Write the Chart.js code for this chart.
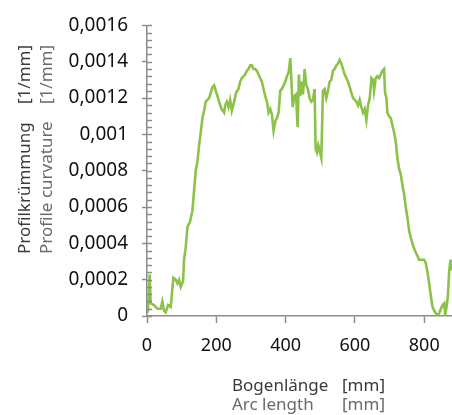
<!DOCTYPE html>
<html lang="de">
<head>
    <meta charset="UTF-8">
    <title>Profilkrümmung</title>
    <script src="https://cdn.jsdelivr.net/npm/chart.js"></script>
    <style>
        html, body { margin: 0; padding: 0; background: #fff; }
        #wrap { width: 452px; height: 415px; }
    </style>
</head>
<body>
    <div id="wrap">
        <canvas id="myChart" width="452" height="415"></canvas>
    </div>

    <script>
        // arc length [mm] and profile curvature [1/mm]
        const arcLength = [
            0, 2.9, 7.7, 10.6, 20.2, 29.9, 39.5, 44.3, 49.1, 54, 60.7, 68.4,
            76.1, 82.8, 87.7, 92.5, 97.3, 104, 106.9, 111.8, 116.6, 124.3, 131, 135.8,
            140.6, 145.5, 150.3, 155.1, 159.9, 164.7, 169.6, 174.4, 179.2, 184, 188.9, 193.7,
            198.5, 203.3, 208.1, 214.8, 218.7, 222.5, 225.4, 230.2, 235.1, 239.9, 244.7, 251.4,
            257.2, 263.9, 268.8, 273.6, 278.4, 283.2, 288.1, 292.9, 297.7, 302.5, 307.3, 312.2,
            317, 321.8, 326.6, 331.4, 336.3, 341.1, 345.9, 350.7, 355.6, 360.4, 365.2, 370,
            374.8, 379.7, 384.5, 389.3, 394.1, 398.9, 403.8, 408.6, 413.4, 416.3, 420.2, 425,
            430, 434.6, 438.3, 442.2, 446, 449.9, 454.7, 459.5, 464.3, 469.1, 474, 478.8,
            483.6, 486.5, 490.4, 494.2, 498.1, 502.9, 507.7, 512.5, 517.3, 522.2, 527, 531.8,
            536.6, 541.4, 546.3, 551.1, 555.9, 560.7, 565.5, 570.4, 575.2, 580, 584.8, 589.6,
            594.5, 599.3, 604.1, 608.9, 613.7, 618.6, 623.4, 628.2, 633, 637.8, 642.7, 647.5,
            652.3, 655.1, 659.9, 664.7, 669.5, 674.4, 679.2, 684, 686.9, 690.8, 693.6, 698.4,
            703.3, 708.1, 712.9, 717.7, 722.5, 727.4, 732.2, 737, 741.8, 746.6, 751.5, 756.3,
            761.1, 765.9, 770.7, 775.6, 780.4, 785.2, 790, 794.9, 799.7, 804.5, 809.3, 814.1,
            819, 823.8, 828.6, 833.4, 838.2, 843.1, 847.9, 852.7, 857.5, 860.4, 864.3, 868.1,
            872, 875.8, 878
        ];
        const curvature = [
            0.000015, 0.00003, 0.00023, 0.00007, 0.00006, 0.00004, 0.00004, 0.00008, 0.00003, 0.00002, 0.00006, 0.00005,
            0.00021, 0.0002, 0.00018, 0.0002, 0.00016, 0.00019, 0.00031, 0.00038, 0.00049, 0.00052, 0.00058, 0.00069,
            0.0008, 0.00085, 0.00094, 0.00101, 0.00109, 0.00113, 0.00118, 0.00119, 0.0012, 0.00123, 0.00126, 0.00127,
            0.00124, 0.00121, 0.00118, 0.00114, 0.00113, 0.00112, 0.00116, 0.00118, 0.00115, 0.00119, 0.00113, 0.00118,
            0.00123, 0.00125, 0.00129, 0.00131, 0.00132, 0.00133, 0.00135, 0.00136, 0.00138, 0.00138, 0.00136, 0.00136,
            0.00135, 0.00133, 0.00131, 0.00129, 0.00125, 0.00121, 0.00118, 0.00112, 0.00114, 0.00111, 0.00102, 0.00107,
            0.00109, 0.00112, 0.00124, 0.00125, 0.00127, 0.00129, 0.00132, 0.00134, 0.00142, 0.00131, 0.00115, 0.00121,
            0.00122, 0.00104, 0.00133, 0.00121, 0.00129, 0.00122, 0.00136, 0.00127, 0.00125, 0.0012, 0.00118, 0.00119,
            0.00125, 0.00092, 0.0009, 0.00094, 0.00091, 0.00087, 0.00124, 0.00125, 0.0012, 0.00124, 0.00129, 0.0013,
            0.00135, 0.00136, 0.00138, 0.00139, 0.00141, 0.00139, 0.00136, 0.00133, 0.00131, 0.00129, 0.00126, 0.00123,
            0.0012, 0.00119, 0.00118, 0.00116, 0.00119, 0.00115, 0.00112, 0.00114, 0.00108, 0.00116, 0.0012, 0.00131,
            0.0013, 0.00124, 0.00131, 0.00132, 0.00131, 0.00133, 0.00135, 0.00136, 0.00123, 0.0012, 0.00112, 0.0011,
            0.00109, 0.00105, 0.00101, 0.00096, 0.00087, 0.00081, 0.00078, 0.00072, 0.00067, 0.0006, 0.00054, 0.00047,
            0.00043, 0.0004, 0.00037, 0.00035, 0.00033, 0.00031, 0.00031, 0.00031, 0.00031, 0.00029, 0.00024, 0.00018,
            0.00011, 0.00005, 0.00003, 0.000015, 0.000005, 0.000015, 0.00004, 0.00006, 0.00007, 0.000005, 0.00005, 0.00011,
            0.00025, 0.00031, 0.00025
        ];
        const xTickStep = 200;
        const yTickStep = 0.0002;
        const yMinorStep = 0.00004;

        const axisGrey = '#8c8c8c';
        const fontFamily = '"Noto Sans", "Open Sans", sans-serif';

        // two-language axis titles, unit column lined up like a tab stop
        const titles = {
            id: 'titles',
            afterDraw(chart) {
                const ctx = chart.ctx;
                const yScale = chart.scales.y;
                ctx.save();

                // inward ticks on the y axis (major and minor)
                ctx.strokeStyle = axisGrey;
                ctx.lineWidth = 1.5;
                const left = chart.chartArea.left;
                for (let v = 0; v <= 0.0016 + 1e-9; v += yMinorStep) {
                    const py = Math.round(yScale.getPixelForValue(v)) + 0.5;
                    ctx.beginPath();
                    ctx.moveTo(left, py);
                    ctx.lineTo(left + 5, py);
                    ctx.stroke();
                }

                ctx.font = '17px ' + fontFamily;
                ctx.textBaseline = 'alphabetic';
                ctx.textAlign = 'left';

                // y title, rotated
                const yStart = 254;
                const yLines = [['Profilkrümmung', 30, '#3a3a3a'], ['Profile curvature', 52, '#6a6a6a']];
                yLines.forEach(([txt, bx, col]) => {
                    ctx.save();
                    ctx.translate(bx, yStart);
                    ctx.rotate(-Math.PI / 2);
                    ctx.fillStyle = col;
                    ctx.fillText(txt, 0, 0);
                    ctx.fillText('[1/mm]', 150, 0);
                    ctx.restore();
                });

                // x title
                const xStart = 232;
                const xLines = [['Bogenlänge', 391, '#3a3a3a'], ['Arc length', 410, '#6a6a6a']];
                xLines.forEach(([txt, by, col]) => {
                    ctx.fillStyle = col;
                    ctx.fillText(txt, xStart, by);
                    ctx.fillText('[mm]', xStart + 110, by);
                });
                ctx.restore();
            }
        };

        const points = arcLength.map((x, i) => ({ x: x, y: curvature[i] }));

        const ctx = document.getElementById('myChart').getContext('2d');
        new Chart(ctx, {
            type: 'line',
            data: {
                datasets: [{
                    data: points,
                    borderColor: '#8cc24a',
                    borderWidth: 2.6,
                    pointRadius: 0,
                    tension: 0,
                    fill: false
                }]
            },
            options: {
                responsive: false,
                animation: false,
                events: [],
                layout: { padding: { top: 24, right: 0, left: 0, bottom: 0 } },
                plugins: {
                    legend: { display: false },
                    tooltip: { enabled: false }
                },
                scales: {
                    x: {
                        type: 'linear',
                        min: 0,
                        max: 880,
                        afterFit(scale) { scale.height = 99; },
                        border: { color: axisGrey, width: 1.5 },
                        grid: {
                            drawOnChartArea: false,
                            tickLength: 7,
                            tickColor: axisGrey,
                            tickWidth: 1.5
                        },
                        ticks: {
                            stepSize: xTickStep,
                            includeBounds: false,
                            padding: 12,
                            color: '#111',
                            font: { family: fontFamily, size: 18 },
                            maxRotation: 0
                        }
                    },
                    y: {
                        min: 0,
                        max: 0.0016,
                        afterFit(scale) { scale.width = 147; },
                        border: { color: axisGrey, width: 1.5 },
                        grid: {
                            drawOnChartArea: false,
                            tickLength: 5,
                            tickColor: axisGrey,
                            tickWidth: 1.5
                        },
                        ticks: {
                            stepSize: yTickStep,
                            padding: 14,
                            color: '#111',
                            font: { family: fontFamily, size: 19 },
                            callback: (v) => Number(v.toFixed(4)).toString().replace('.', ',')
                        }
                    }
                }
            },
            plugins: [titles]
        });
    </script>
</body>
</html>
